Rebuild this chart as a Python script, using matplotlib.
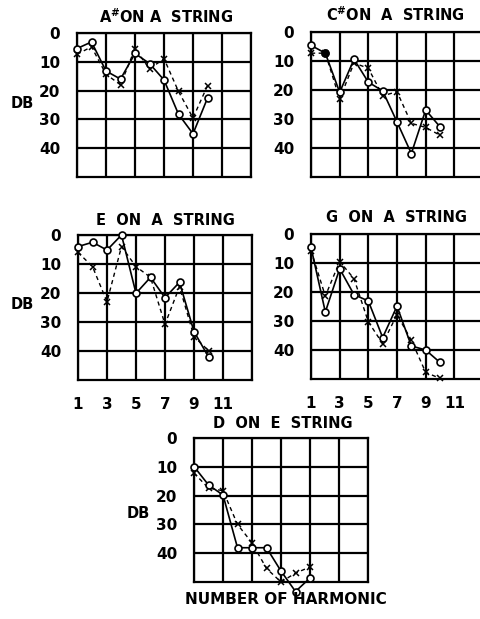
import matplotlib.pyplot as plt
import numpy as np

plt.rcParams['font.family'] = ['DejaVu Sans']
plt.rcParams['font.weight'] = 'bold'

W, H = 480, 619

# Relative level (dB below strongest) per harmonic: circles = solid, crosses = dashed
harm10 = np.arange(1, 11)
harm9 = np.arange(1, 10)

a_sharp_solid = [5.4, 3.1, 13.2, 16.0, 7.1, 10.6, 16.3, 28.2, 35.0, 22.6]
a_sharp_dashed = [7.4, 4.8, 14.3, 18.0, 5.4, 12.5, 8.9, 20.3, 29.5, 18.3]

c_sharp_solid = [4.6, 7.3, 20.8, 9.4, 17.3, 20.3, 31.0, 41.9, 26.9, 32.7]
c_sharp_dashed = [7.3, 7.3, 23.1, 10.7, 12.5, 22.0, 20.6, 31.5, 32.9, 35.6]

e_solid = [4.0, 2.5, 5.2, 0.0, 20.1, 14.6, 21.6, 16.3, 33.3, 42.0]
e_dashed = [6.0, 10.9, 23.0, 4.0, 10.9, 14.6, 30.8, 17.8, 35.0, 39.9]

g_solid = [4.6, 26.9, 12.0, 20.9, 23.1, 35.7, 24.9, 38.6, 40.0, 44.3]
g_dashed = [5.7, 21.4, 9.5, 15.4, 30.3, 37.8, 27.8, 36.6, 47.7, 49.8]

d_solid = [9.9, 16.3, 19.8, 38.1, 38.1, 38.1, 46.2, 53.3, 48.6]
d_dashed = [12.2, 17.4, 18.3, 30.0, 36.4, 45.3, 50.0, 46.9, 44.8]

db_ticks = [0, 10, 20, 30, 40]
harm_ticks = [1, 3, 5, 7, 9, 11]


def px_axes(left, right, top, bottom):
    return fig.add_axes([left / W, 1 - bottom / H, (right - left) / W, (bottom - top) / H])


def draw_panel(ax, harm, solid, dashed, xticklabels=False):
    ax.set_xlim(1, 13)
    ax.set_ylim(50, 0)
    ax.set_xticks([1, 3, 5, 7, 9, 11, 13])
    ax.set_yticks(db_ticks)
    ax.set_yticklabels([str(t) for t in db_ticks], fontsize=11, fontweight='bold')
    if xticklabels:
        ax.set_xticklabels([str(t) for t in harm_ticks] + [''], fontsize=11, fontweight='bold')
    else:
        ax.set_xticklabels([])
    ax.tick_params(length=0, pad=12)
    ax.grid(True, color='black', linewidth=1.6)
    for s in ax.spines.values():
        s.set_linewidth(1.6)
    ax.plot(harm, dashed, color='black', linestyle=(0, (3, 2.5)), linewidth=1.0,
            marker='x', markersize=4.5, markeredgewidth=1.1, clip_on=False, zorder=3)
    ax.plot(harm, solid, color='black', linestyle='-', linewidth=1.2,
            marker='o', markersize=5, markerfacecolor='white', markeredgewidth=1.2,
            clip_on=False, zorder=4)


fig = plt.figure(figsize=(W / 100, H / 100), dpi=100)

ax1 = px_axes(77, 251, 33, 177)
draw_panel(ax1, harm10, a_sharp_solid, a_sharp_dashed)
ax2 = px_axes(311, 483, 32, 177)
draw_panel(ax2, harm10, c_sharp_solid, c_sharp_dashed)
# second harmonic on C# is drawn as a solid dot
ax2.plot(harm10[1], c_sharp_solid[1], 'o', color='black', markersize=5, zorder=5)
ax3 = px_axes(78, 252, 235, 380)
draw_panel(ax3, harm10, e_solid, e_dashed, xticklabels=True)
ax4 = px_axes(311, 483, 234, 379)
draw_panel(ax4, harm10, g_solid, g_dashed, xticklabels=True)
ax5 = px_axes(194, 368, 438, 582)
draw_panel(ax5, harm9, d_solid, d_dashed)


def ftext(x, y, s, size=10.5):
    fig.text(x / W, 1 - y / H, s, ha='center', va='center', fontsize=size, fontweight='bold')


ftext(166, 17, r'A$^{\#}$ON A  STRING')
ftext(395, 15, r'C$^{\#}$ON  A  STRING')
ftext(165, 220, 'E  ON  A  STRING')
ftext(397, 218, 'G  ON  A  STRING')
ftext(283, 423, 'D  ON  E  STRING')
ftext(22, 103, 'DB', 10.5)
ftext(22, 305, 'DB', 10.5)
ftext(138, 513, 'DB', 10.5)
ftext(286, 600, 'NUMBER OF HARMONIC', 11)

fig.savefig('out.png', dpi=100)
